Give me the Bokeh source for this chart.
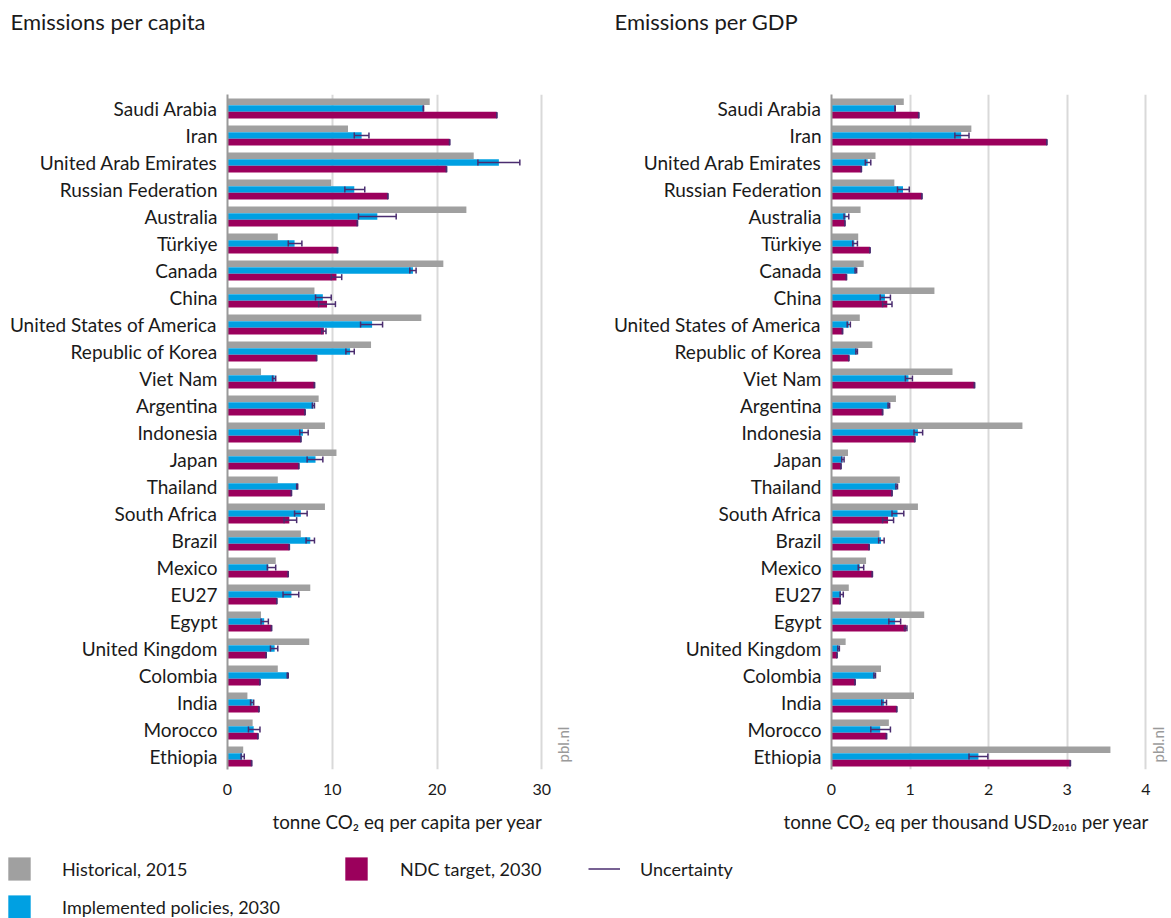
import math
from bokeh.plotting import figure
from bokeh.models import (ColumnDataSource, FactorRange, Range1d, FixedTicker,
                          Label, Legend, LegendItem, Title)
from bokeh.transform import dodge
from bokeh.layouts import column, row
from bokeh.embed import file_html
from bokeh.resources import INLINE

# ---- data -------------------------------------------------------------
countries = ["Saudi Arabia", "Iran", "United Arab Emirates", "Russian Federation",
             "Australia", "Türkiye", "Canada", "China", "United States of America",
             "Republic of Korea", "Viet Nam", "Argentina", "Indonesia", "Japan",
             "Thailand", "South Africa", "Brazil", "Mexico", "EU27", "Egypt",
             "United Kingdom", "Colombia", "India", "Morocco", "Ethiopia"]

# tonne CO2 eq per capita per year
cap_hist = [19.3, 11.5, 23.5, 9.9, 22.8, 4.8, 20.6, 8.3, 18.5, 13.7, 3.2, 8.7, 9.3,
            10.4, 4.8, 9.3, 7.0, 4.6, 7.9, 3.2, 7.8, 4.8, 1.9, 2.4, 1.5]
cap_impl = [18.7, 12.8, 25.9, 12.1, 14.3, 6.4, 17.7, 9.1, 13.8, 11.7, 4.5, 8.2, 7.2,
            8.4, 6.7, 7.0, 7.9, 3.9, 6.1, 3.5, 4.5, 5.8, 2.4, 2.5, 1.4]
cap_impl_lo = [18.7, 12.1, 23.9, 11.2, 12.5, 5.8, 17.4, 8.4, 12.7, 11.3, 4.3, 8.1, 6.9,
               7.6, 6.6, 6.4, 7.5, 3.8, 5.3, 3.2, 4.1, 5.7, 2.2, 2.0, 1.3]
cap_impl_hi = [18.7, 13.5, 27.9, 13.1, 16.1, 7.1, 18.0, 9.9, 14.8, 12.1, 4.6, 8.3, 7.7,
               9.1, 6.7, 7.6, 8.3, 4.6, 6.8, 3.9, 4.8, 5.8, 2.5, 3.1, 1.6]
cap_ndc = [25.7, 21.2, 20.9, 15.3, 12.4, 10.5, 10.4, 9.5, 9.2, 8.5, 8.3, 7.4, 7.0,
           6.8, 6.1, 5.9, 5.9, 5.8, 4.7, 4.2, 3.7, 3.1, 3.0, 2.9, 2.3]
cap_ndc_lo = [25.7, 21.2, 20.9, 15.3, 12.4, 10.5, 9.9, 8.7, 9.0, 8.5, 8.3, 7.4, 7.0,
              6.8, 6.1, 5.4, 5.9, 5.8, 4.7, 4.2, 3.7, 3.1, 3.0, 2.9, 2.3]
cap_ndc_hi = [25.7, 21.2, 20.9, 15.3, 12.4, 10.5, 10.9, 10.3, 9.4, 8.5, 8.3, 7.4, 7.0,
              6.8, 6.1, 6.6, 5.9, 5.8, 4.7, 4.2, 3.7, 3.1, 3.0, 2.9, 2.3]

# tonne CO2 eq per thousand USD2010 per year
gdp_hist = [0.92, 1.78, 0.56, 0.80, 0.37, 0.34, 0.41, 1.31, 0.36, 0.52, 1.54, 0.82, 2.43,
            0.21, 0.87, 1.10, 0.61, 0.44, 0.22, 1.18, 0.18, 0.63, 1.05, 0.73, 3.55]
gdp_impl = [0.81, 1.65, 0.46, 0.91, 0.18, 0.29, 0.31, 0.68, 0.22, 0.32, 0.98, 0.73, 1.10,
            0.14, 0.83, 0.84, 0.63, 0.36, 0.12, 0.81, 0.09, 0.55, 0.67, 0.62, 1.87]
gdp_impl_lo = [0.81, 1.57, 0.43, 0.84, 0.16, 0.27, 0.30, 0.62, 0.20, 0.31, 0.94, 0.72, 1.05,
               0.13, 0.82, 0.77, 0.60, 0.34, 0.11, 0.73, 0.08, 0.54, 0.64, 0.50, 1.75]
gdp_impl_hi = [0.81, 1.75, 0.50, 0.99, 0.22, 0.33, 0.32, 0.75, 0.24, 0.33, 1.03, 0.74, 1.16,
               0.16, 0.84, 0.92, 0.67, 0.41, 0.15, 0.88, 0.10, 0.56, 0.70, 0.75, 1.99]
gdp_ndc = [1.11, 2.74, 0.38, 1.15, 0.17, 0.49, 0.19, 0.71, 0.14, 0.22, 1.82, 0.65, 1.06,
           0.12, 0.77, 0.72, 0.48, 0.52, 0.11, 0.95, 0.07, 0.30, 0.83, 0.70, 3.04]
gdp_ndc_lo = [1.11, 2.74, 0.38, 1.15, 0.17, 0.49, 0.19, 0.65, 0.14, 0.22, 1.82, 0.65, 1.06,
              0.12, 0.77, 0.65, 0.48, 0.52, 0.11, 0.93, 0.07, 0.30, 0.83, 0.70, 3.04]
gdp_ndc_hi = [1.11, 2.74, 0.38, 1.15, 0.17, 0.49, 0.19, 0.77, 0.14, 0.22, 1.82, 0.65, 1.06,
              0.12, 0.77, 0.79, 0.48, 0.52, 0.11, 0.96, 0.07, 0.30, 0.83, 0.70, 3.04]

cap_ticks = [0, 10, 20, 30]
gdp_ticks = [0, 1, 2, 3, 4]

# ---- style ------------------------------------------------------------
FONT = "Lato"
GREY = "#a0a0a0"
BLUE = "#00a0e2"
MAGENTA = "#9b005c"
ERR = "#4a2c6f"
TEXT = "#1a1a1a"

H_OFF, I_OFF, N_OFF = 0.23, -0.02, -0.265
BAR_H = 0.245


def blank(width, height):
    f = figure(width=width, height=height, x_range=Range1d(0, width),
               y_range=Range1d(0, height), x_axis_type=None, y_axis_type=None,
               output_backend="svg", toolbar_location=None, min_border=0)
    f.outline_line_color = None
    f.xgrid.grid_line_color = None
    f.ygrid.grid_line_color = None
    return f


def panel(xlabel, hist, impl, impl_lo, impl_hi, ndc, ndc_lo, ndc_hi,
          xmax, ticks, width, left, right, label_offset, mark_x):
    src = ColumnDataSource(dict(country=countries, hist=hist, impl=impl,
                                impl_lo=impl_lo, impl_hi=impl_hi,
                                ndc=ndc, ndc_lo=ndc_lo, ndc_hi=ndc_hi))
    p = figure(width=width, height=805,
               y_range=FactorRange(factors=countries[::-1], range_padding=0),
               x_range=Range1d(0, xmax),
               output_backend="svg", toolbar_location=None,
               min_border_left=left, min_border_right=right,
               min_border_top=54, min_border_bottom=76)
    p.outline_line_color = None
    p.background_fill_color = "white"
    p.border_fill_color = "white"

    yr = p.y_range
    p.hbar(y=dodge("country", H_OFF, range=yr), left=0, right="hist",
           height=BAR_H, color=GREY, line_color=None, source=src)
    p.hbar(y=dodge("country", I_OFF, range=yr), left=0, right="impl",
           height=BAR_H, color=BLUE, line_color=None, source=src)
    p.hbar(y=dodge("country", N_OFF, range=yr), left=0, right="ndc",
           height=BAR_H, color=MAGENTA, line_color=None, source=src)

    # uncertainty ranges with end caps
    for off, lo, hi in ((I_OFF, "impl_lo", "impl_hi"), (N_OFF, "ndc_lo", "ndc_hi")):
        yy = dodge("country", off, range=yr)
        p.segment(x0=lo, y0=yy, x1=hi, y1=yy, line_color=ERR, line_width=1.5, source=src)
        for col in (lo, hi):
            p.scatter(x=col, y=yy, marker="dash", angle=math.pi / 2, size=6,
                      line_color=ERR, line_width=1.5, source=src)

    p.ygrid.grid_line_color = None
    p.xgrid.ticker = FixedTicker(ticks=ticks)
    p.xgrid.grid_line_color = "#d9d9d9"
    p.xgrid.grid_line_width = 2

    p.xaxis.ticker = FixedTicker(ticks=ticks)
    p.xaxis.axis_line_color = None
    p.xaxis.major_tick_line_color = None
    p.xaxis.minor_tick_line_color = None
    p.xaxis.major_label_standoff = 8
    p.xaxis.major_label_text_font = FONT
    p.xaxis.major_label_text_font_size = "16px"
    p.xaxis.major_label_text_color = TEXT

    p.yaxis.axis_line_color = "#9a9a9a"
    p.yaxis.axis_line_width = 2
    p.yaxis.major_tick_line_color = None
    p.yaxis.minor_tick_line_color = None
    p.yaxis.major_label_standoff = 4
    p.yaxis.major_label_text_font = FONT
    p.yaxis.major_label_text_font_size = "19px"
    p.yaxis.major_label_text_color = TEXT

    p.add_layout(Title(text=xlabel, align="left", offset=label_offset, standoff=21,
                       text_font=FONT, text_font_size="18.8px", text_font_style="normal",
                       text_color=TEXT), "below")
    p.add_layout(Label(x=mark_x, y=0.26, text="pbl.nl", text_font=FONT,
                       text_font_size="15px", text_color="#9a9a9a", angle=math.pi / 2,
                       text_baseline="middle", text_align="left"))
    return p


# ---- headings ---------------------------------------------------------
tf = blank(1171, 40)
for tx, txt in ((10, "Emissions per capita"), (614, "Emissions per GDP")):
    tf.add_layout(Label(x=tx, y=19, text=txt, text_font=FONT, text_font_size="22px",
                        text_color=TEXT, text_baseline="middle", text_align="left"))

p1 = panel("tonne CO₂ eq per capita per year",
           cap_hist, cap_impl, cap_impl_lo, cap_impl_hi, cap_ndc, cap_ndc_lo, cap_ndc_hi,
           xmax=33.5, ticks=cap_ticks, width=600, left=227, right=22,
           label_offset=45, mark_x=32.03)
p2 = panel("tonne CO₂ eq per thousand USD₂₀₁₀ per year",
           gdp_hist, gdp_impl, gdp_impl_lo, gdp_impl_hi, gdp_ndc, gdp_ndc_lo, gdp_ndc_hi,
           xmax=4.289, ticks=gdp_ticks, width=571, left=231, right=3,
           label_offset=-48, mark_x=4.159)

# ---- shared legend ----------------------------------------------------
lf = blank(1171, 73)

# legend proxies, kept outside the visible range
r_hist = lf.hbar(y=[-50], right=[1], height=1, color=GREY, line_color=None)
r_impl = lf.hbar(y=[-50], right=[1], height=1, color=BLUE, line_color=None)
r_ndc = lf.hbar(y=[-50], right=[1], height=1, color=MAGENTA, line_color=None)
r_unc = lf.segment(x0=[0], y0=[-50], x1=[1], y1=[-50], line_color=ERR, line_width=1.5)

GW, GH = 28, 29


def make_legend(items, loc, glyph_w, standoff):
    leg = Legend(items=items, location=loc, orientation="vertical",
                 glyph_width=glyph_w, glyph_height=GH, label_height=GH,
                 label_standoff=standoff, spacing=9, padding=0, margin=0,
                 border_line_color=None, background_fill_alpha=0,
                 label_text_font=FONT, label_text_font_size="18px",
                 label_text_color=TEXT)
    lf.add_layout(leg)


make_legend([LegendItem(label="Historical, 2015", renderers=[r_hist]),
             LegendItem(label="Implemented policies, 2030", renderers=[r_impl])],
            (5, -3), GW, 29)
make_legend([LegendItem(label="NDC target, 2030", renderers=[r_ndc])],
            (342, 35), GW, 30)
make_legend([LegendItem(label="Uncertainty", renderers=[r_unc])],
            (588, 35), 32, 20)

layout = column(tf, row(p1, p2, spacing=0), lf, spacing=0)

open("out.html", "w").write(file_html(layout, INLINE))
